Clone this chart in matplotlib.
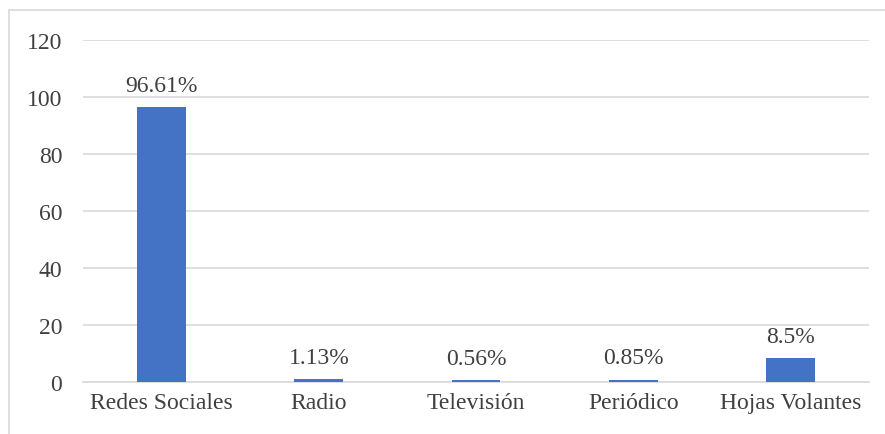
import matplotlib.pyplot as plt
from matplotlib.patches import Rectangle

# datos
categorias = ["Redes Sociales", "Radio", "Televisión", "Periódico", "Hojas Volantes"]
valores = [96.61, 1.13, 0.56, 0.85, 8.5]
etiquetas = ["96.61%", "1.13%", "0.56%", "0.85%", "8.5%"]
yticks = [0, 20, 40, 60, 80, 100, 120]

plt.rcParams['font.family'] = ['Liberation Serif', 'DejaVu Serif']

fig = plt.figure(figsize=(8.85, 4.35), dpi=100)
ax = fig.add_axes([0.0938, 0.1195, 0.8882, 0.7862])

# marco del gráfico (recortado a la derecha y abajo)
fig.patches.append(Rectangle((9 / 885, -0.1), 1.2, 1 - 11 / 435 + 0.1,
                             transform=fig.transFigure, fill=False,
                             edgecolor='#D9D9D9', linewidth=1.2))

x = range(len(categorias))
ax.bar(x, valores, width=0.31, color='#4472C4', zorder=3)

for xi, v, t in zip(x, valores, etiquetas):
    ax.annotate(t, (xi, v), xytext=(0, 8), textcoords='offset points',
                ha='center', va='bottom', fontsize=17, color='#404040')

ax.set_xlim(-0.5, len(categorias) - 0.5)
ax.set_ylim(0, 120)
ax.set_yticks(yticks)
ax.set_xticks(list(x))
ax.set_xticklabels(categorias)
ax.grid(axis='y', color='#D9D9D9', linewidth=1.2, zorder=0)
ax.tick_params(axis='y', length=0, pad=15, labelsize=17, labelcolor='#404040')
ax.tick_params(axis='x', length=0, pad=7, labelsize=17, labelcolor='#404040')
for s in ['top', 'right', 'left']:
    ax.spines[s].set_visible(False)
ax.spines['bottom'].set_color('#D9D9D9')
ax.spines['bottom'].set_linewidth(1.2)

fig.savefig("out.png", dpi=100)
